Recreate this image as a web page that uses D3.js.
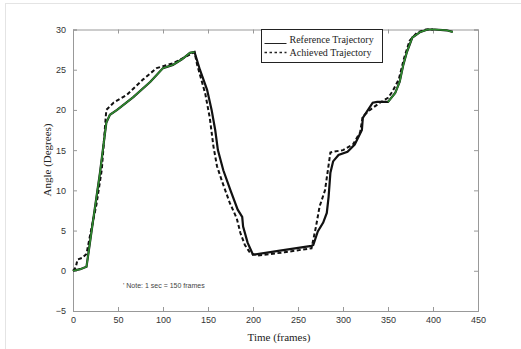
<!DOCTYPE html>
<html>
<head>
<meta charset="utf-8">
<script src="https://cdn.jsdelivr.net/npm/d3@7"></script>
<style>
  body { margin: 0; background: #fff; }
  .tick text { font-family: "Liberation Sans", Arial, sans-serif; font-size: 9px; fill: #333; }
  .axisTitle { font-family: "Liberation Serif", "Times New Roman", serif; font-size: 11px; fill: #222; }
</style>
</head>
<body>
<div id="chart"></div>
<script>
// reference trajectory (time in frames, angle in degrees)
var refTime  = [0, 8, 15, 22, 30, 37, 41, 49, 67, 86, 100, 111, 121, 130, 135, 141, 149, 154, 158, 161, 167, 175, 183, 188, 189, 194, 200, 230, 265, 267, 272, 278, 282, 284, 286, 289, 295, 305, 313, 321, 322, 326, 333, 338, 350, 358, 363, 367, 371, 377, 386, 394, 402, 415, 422];
var refAngle = [0, 0.2, 0.5, 6, 12.2, 18.4, 19.4, 20, 21.6, 23.5, 25.2, 25.6, 26.3, 27.1, 27.2, 25, 22.5, 20, 17.5, 15, 12.5, 10, 7.6, 6.7, 5.5, 3.5, 2.0, 2.5, 3.1, 3.2, 4.9, 6, 7.2, 9.2, 12.2, 13.6, 14.4, 14.8, 15.7, 17.5, 19, 19.7, 20.9, 21.0, 21.0, 22.1, 23.5, 25.6, 27.2, 29, 29.7, 30, 30, 29.9, 29.7];

// achieved trajectory
var achTime  = [0, 3, 5, 10, 15, 20, 26, 32, 37, 45, 60, 78, 93, 111, 132, 135, 138, 147, 152, 156, 160, 166, 174, 182, 186, 191, 197, 205, 235, 265, 270, 274, 280, 286, 289, 300, 311, 319, 322, 330, 341, 350, 355, 362, 368, 374, 382, 392, 400];
var achAngle = [0, 0.4, 1.4, 1.6, 2.1, 5, 8.2, 12.6, 20, 20.9, 21.9, 23.8, 25.2, 25.8, 27.0, 27.2, 25.6, 22, 19, 15.5, 13, 11, 8.5, 6.5, 4.7, 3.2, 2.2, 1.9, 2.3, 2.8, 5.5, 8, 10, 14.7, 14.8, 15, 15.7, 17.2, 19.2, 20, 20.9, 21.5, 22.3, 23.8, 26.5, 28.6, 29.6, 30, 30];

// time ranges where the reference shows green
var greenRanges = [[0, 135], [350, 422]];

var xTicks = [0, 50, 100, 150, 200, 250, 300, 350, 400, 450];
var yTicks = [-5, 0, 5, 10, 15, 20, 25, 30];

var svgWidth = 521;
var svgHeight = 349;

var margin = { top: 29.5, right: 43, bottom: 38, left: 73 };
var width = 478 - margin.left;
var height = 311 - margin.top;

var svg = d3.select("#chart")
  .append("svg")
  .attr("width", svgWidth)
  .attr("height", svgHeight);

// dotted figure border
svg.append("rect")
  .attr("x", 5.5).attr("y", 3.5)
  .attr("width", 520).attr("height", 350)
  .attr("fill", "none")
  .attr("stroke", "#c8c8c8")
  .attr("stroke-dasharray", "1,1");

var chartGroup = svg.append("g")
  .attr("transform", `translate(${margin.left}, ${margin.top})`);

var x = d3.scaleLinear().domain([0, 450]).range([0, width]);
var y = d3.scaleLinear().domain([-5, 30]).range([height, 0]);

// axes with inward ticks on all four sides
var bottomAxis = d3.axisBottom(x).tickValues(xTicks).tickSize(-4).tickPadding(6);
var leftAxis = d3.axisLeft(y).tickValues(yTicks).tickSize(-4).tickPadding(7);
var topAxis = d3.axisTop(x).tickValues(xTicks).tickSize(-4).tickFormat("");
var rightAxis = d3.axisRight(y).tickValues(yTicks).tickSize(-4).tickFormat("");

function styleAxis(g) {
  g.selectAll("path").attr("stroke", "#999");
  g.selectAll("line").attr("stroke", "#999");
}

chartGroup.append("g").attr("transform", `translate(0, ${height})`).call(bottomAxis).call(styleAxis);
chartGroup.append("g").call(leftAxis).call(styleAxis);
chartGroup.append("g").call(topAxis).call(styleAxis);
chartGroup.append("g").attr("transform", `translate(${width}, 0)`).call(rightAxis).call(styleAxis);

var refData = refTime.map((t, i) => ({ t: t, a: refAngle[i] }));
var achData = achTime.map((t, i) => ({ t: t, a: achAngle[i] }));

var line = d3.line().x(d => x(d.t)).y(d => y(d.a));

chartGroup.append("path")
  .datum(refData)
  .attr("d", line)
  .attr("fill", "none")
  .attr("stroke", "#111")
  .attr("stroke-width", 2.2);

chartGroup.append("path")
  .datum(achData)
  .attr("d", line)
  .attr("fill", "none")
  .attr("stroke", "#111")
  .attr("stroke-width", 2)
  .attr("stroke-dasharray", "4,2.5");

// green overlay on parts of the reference
greenRanges.forEach(function(r) {
  chartGroup.append("path")
    .datum(refData.filter(d => d.t >= r[0] && d.t <= r[1]))
    .attr("d", line)
    .attr("fill", "none")
    .attr("stroke", "#2e8b2e")
    .attr("stroke-width", 1.6);
});

// legend
var legend = svg.append("g").attr("transform", "translate(261.5, 29.5)");
legend.append("rect")
  .attr("width", 121).attr("height", 33)
  .attr("fill", "#fff").attr("stroke", "#222").attr("stroke-width", 1);
legend.append("line")
  .attr("x1", 3).attr("x2", 25).attr("y1", 14).attr("y2", 14)
  .attr("stroke", "#222").attr("stroke-width", 1);
legend.append("line")
  .attr("x1", 3).attr("x2", 25).attr("y1", 23).attr("y2", 23)
  .attr("stroke", "#222").attr("stroke-width", 1.5).attr("stroke-dasharray", "2.5,2.5");
legend.append("text")
  .attr("class", "axisTitle").attr("x", 28).attr("y", 13)
  .style("font-size", "10px").text("Reference Trajectory");
legend.append("text")
  .attr("class", "axisTitle").attr("x", 28).attr("y", 26)
  .style("font-size", "10px").text("Achieved Trajectory");

// note
svg.append("text")
  .attr("x", 123).attr("y", 288)
  .style("font-family", "Liberation Sans, Arial, sans-serif")
  .style("font-size", "7px").attr("fill", "#444")
  .text("' Note: 1 sec = 150 frames");

// axis titles
svg.append("text")
  .attr("class", "axisTitle")
  .attr("text-anchor", "middle")
  .attr("x", 279).attr("y", 341)
  .text("Time (frames)");

svg.append("text")
  .attr("class", "axisTitle")
  .attr("text-anchor", "middle")
  .attr("transform", "translate(51, 160) rotate(-90)")
  .text("Angle (Degrees)");
</script>
</body>
</html>
